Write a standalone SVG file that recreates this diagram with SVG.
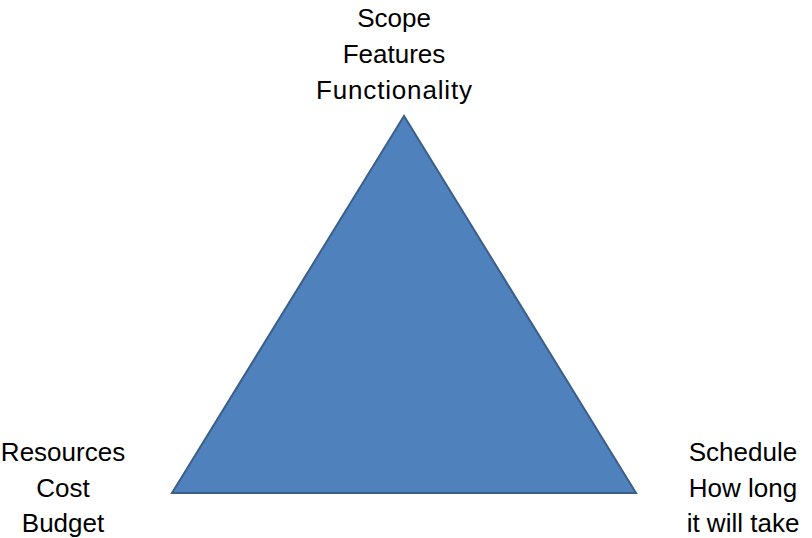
<svg xmlns="http://www.w3.org/2000/svg" width="812" height="538" viewBox="0 0 812 538">
<style>
text{font-family:"Liberation Sans","Open Sans",sans-serif;font-size:26px;fill:#000;text-anchor:middle}
</style>
<rect width="812" height="538" fill="#fff"/>
<g id="triangle">
<polygon points="404,116 172,493 636,493" fill="#4F81BD" stroke="#3A5F8B" stroke-width="2" stroke-linejoin="miter"/>
</g>
<g id="scope">
<text x="394" y="27">Scope</text>
<text x="394" y="63">Features</text>
<text x="394" y="99" textLength="156">Functionality</text>
</g>
<g id="resources">
<text x="63" y="461">Resources</text>
<text x="63" y="497">Cost</text>
<text x="63" y="532">Budget</text>
</g>
<g id="schedule">
<text x="743" y="461">Schedule</text>
<text x="743" y="497">How long</text>
<text x="743" y="532">it will take</text>
</g>
</svg>
